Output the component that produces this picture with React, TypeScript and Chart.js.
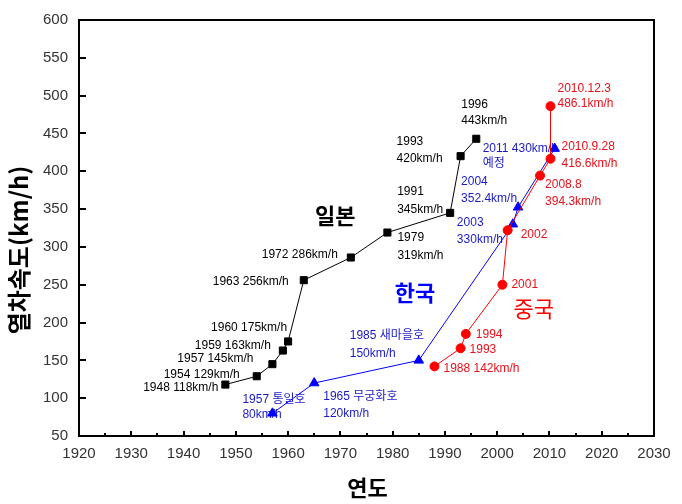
import { useEffect, useRef } from "react";
import { Chart, registerables } from "chart.js";
Chart.register(...registerables);

// ---- data ----
const japanYears = [1948, 1954, 1957, 1959, 1960, 1963, 1972, 1979, 1991, 1993, 1996];
const japanSpeeds = [118, 129, 145, 163, 175, 256, 286, 319, 345, 420, 443];
const koreaYears = [1957, 1965, 1985, 2003, 2004, 2011];
const koreaSpeeds = [80, 120, 150, 330, 352.4, 430];
const chinaYears = [1988, 1993, 1994, 2001, 2002, 2008.2, 2010.2, 2010.2];
const chinaSpeeds = [142, 166, 185, 250, 322, 394.3, 416.6, 486.1];

const japanTexts = [
  ["1948 118km/h"], ["1954 129km/h"], ["1957 145km/h"], ["1959 163km/h"], ["1960 175km/h"],
  ["1963 256km/h"], ["1972 286km/h"], ["1979", "319km/h"], ["1991", "345km/h"],
  ["1993", "420km/h"], ["1996", "443km/h"],
];
const koreaTexts = [
  ["1957 통일호", "80km/h"], ["1965 무궁화호", "120km/h"], ["1985 새마을호", "150km/h"],
  ["2003", "330km/h"], ["2004", "352.4km/h"], ["2011 430km/h", "예정"],
];
const chinaTexts = [
  ["1988 142km/h"], ["1993"], ["1994"], ["2001"], ["2002"],
  ["2008.8", "394.3km/h"], ["2010.9.28", "416.6km/h"], ["2010.12.3", "486.1km/h"],
];

const xTicks = [1920, 1930, 1940, 1950, 1960, 1970, 1980, 1990, 2000, 2010, 2020, 2030];
const yTicks = [50, 100, 150, 200, 250, 300, 350, 400, 450, 500, 550, 600];

const regionNames = ["일본", "한국", "중국"];
const regionX = [1969, 1984.3, 2007];
const regionY = [342, 239, 219];

const xTitle = "연도";
const yTitle = "열차속도(km/h)";

// ---- styling / layout (pixel offsets of labels relative to their points) ----
const JP_COLOR = "#000000";
const KR_COLOR = "#0000ff";
const KR_TEXT = "#1a1ac8";
const CN_COLOR = "#ff0000";
const CN_TEXT = "#e8101a";

const japanOffsets: [number, number[], CanvasTextAlign][] = [
  [-7, [3], "right"], [-17, [-2], "right"], [-19, [-5], "right"], [-12, [-5], "right"],
  [-1, [-14], "right"], [-15, [1], "right"], [-13, [-3], "right"], [10, [5, 23], "left"],
  [-53, [-21, -3], "left"], [-64, [-14, 3], "left"], [-15, [-34, -18], "left"],
];
const koreaOffsets: [number, number[], CanvasTextAlign][] = [
  [-30, [-14, 1], "left"], [9, [14, 31], "left"], [-69, [-25, -7], "left"],
  [-56, [-2, 15], "left"], [-57, [-26, -9], "left"], [-72, [0, 15], "left"],
];
const chinaOffsets: [number, number[], CanvasTextAlign][] = [
  [9, [2], "left"], [9, [1], "left"], [10, [1], "left"], [9, [0], "left"], [13, [4], "left"],
  [5, [9, 26], "left"], [11, [-12, 5], "left"], [7, [-17, -2], "left"],
];

const LABEL_FONT = "12px 'Liberation Sans', 'Noto Sans CJK KR', sans-serif";

const annotationPlugin = {
  id: "annotations",
  beforeDatasetsDraw(chart: any) {
    const ctx = chart.ctx;
    const xs = chart.scales.x;
    const ys = chart.scales.y;
    const groups: [number[], number[], string[][], [number, number[], CanvasTextAlign][], string][] = [
      [japanYears, japanSpeeds, japanTexts, japanOffsets, JP_COLOR],
      [koreaYears, koreaSpeeds, koreaTexts, koreaOffsets, KR_TEXT],
      [chinaYears, chinaSpeeds, chinaTexts, chinaOffsets, CN_TEXT],
    ];
    ctx.save();
    ctx.font = LABEL_FONT;
    ctx.textBaseline = "middle";
    for (const [xsArr, ysArr, texts, offs, color] of groups) {
      ctx.fillStyle = color;
      texts.forEach((lines, i) => {
        const px = xs.getPixelForValue(xsArr[i]);
        const py = ys.getPixelForValue(ysArr[i]);
        const [dx, dys, align] = offs[i];
        ctx.textAlign = align;
        lines.forEach((t, j) => ctx.fillText(t, px + dx, py + dys[j]));
      });
    }
    // region names
    const regionColors = [JP_COLOR, KR_COLOR, CN_COLOR];
    const regionFonts = [
      "bold 22px 'Noto Sans CJK KR', sans-serif",
      "bold 22px 'Noto Sans CJK KR', sans-serif",
      "22px 'Noto Sans CJK KR', sans-serif",
    ];
    ctx.textAlign = "center";
    regionNames.forEach((n, i) => {
      ctx.font = regionFonts[i];
      ctx.fillStyle = regionColors[i];
      ctx.fillText(n, xs.getPixelForValue(regionX[i]), ys.getPixelForValue(regionY[i]));
    });
    ctx.restore();
  },
  afterDraw(chart: any) {
    const ctx = chart.ctx;
    const { left, right, top, bottom } = chart.chartArea;
    const xs = chart.scales.x;
    const ys = chart.scales.y;
    ctx.save();
    ctx.strokeStyle = "#000";
    ctx.lineWidth = 2;
    ctx.strokeRect(left, top, right - left, bottom - top);
    ctx.beginPath();
    for (let v = 1920; v <= 2030; v += 5) {
      const x = Math.round(xs.getPixelForValue(v));
      const len = v % 10 === 0 ? 5 : 3;
      ctx.moveTo(x, bottom);
      ctx.lineTo(x, bottom - len);
    }
    for (const v of yTicks) {
      const y = Math.round(ys.getPixelForValue(v));
      ctx.moveTo(left, y);
      ctx.lineTo(left + 7, y);
    }
    ctx.stroke();
    // axis titles
    ctx.fillStyle = "#000";
    ctx.textAlign = "center";
    ctx.textBaseline = "middle";
    ctx.font = "bold 22px 'Noto Sans CJK KR', sans-serif";
    ctx.fillText(xTitle, (left + right) / 2 + 1, 488);
    ctx.translate(19, 250);
    ctx.rotate(-Math.PI / 2);
    ctx.font = "bold 24px 'Noto Sans CJK KR', sans-serif";
    ctx.fillText(yTitle, 0, 0);
    ctx.restore();
  },
};

export default function App() {
  const ref = useRef<HTMLCanvasElement | null>(null);
  useEffect(() => {
    if (!ref.current) return;
    const mk = (xa: number[], ya: number[]) => xa.map((x, i) => ({ x, y: ya[i] }));
    const chart = new Chart(ref.current, {
      type: "scatter",
      data: {
        datasets: [
          {
            label: "일본",
            data: mk(japanYears, japanSpeeds),
            showLine: true,
            borderColor: JP_COLOR,
            backgroundColor: JP_COLOR,
            borderWidth: 1,
            pointStyle: "rect",
            pointRadius: 5,
            pointBorderWidth: 1,
          },
          {
            label: "중국",
            data: mk(chinaYears, chinaSpeeds),
            showLine: true,
            borderColor: CN_COLOR,
            backgroundColor: CN_COLOR,
            borderWidth: 1,
            pointStyle: "circle",
            pointRadius: 4.5,
            pointBorderWidth: 1,
          },
          {
            label: "한국",
            data: mk(koreaYears, koreaSpeeds),
            showLine: true,
            borderColor: KR_COLOR,
            backgroundColor: KR_COLOR,
            borderWidth: 1,
            pointStyle: "triangle",
            pointRadius: 5.5,
            pointBorderWidth: 1,
          },
        ],
      },
      options: {
        responsive: false,
        animation: false,
        devicePixelRatio: 1,
        layout: { padding: { left: 0, top: 14, right: 28, bottom: 0 } },
        plugins: { legend: { display: false }, tooltip: { enabled: false } },
        scales: {
          x: {
            type: "linear",
            min: 1920,
            max: 2030,
            afterFit: (s: any) => { s.height = 68; },
            afterBuildTicks: (s: any) => { s.ticks = xTicks.map((v) => ({ value: v })); },
            grid: { display: false, drawTicks: false },
            border: { display: false },
            ticks: {
              padding: 9,
              color: "#333",
              callback: (v: any) => String(v),
              font: { family: "'Liberation Sans', Arial, sans-serif", size: 15 },
            },
          },
          y: {
            type: "linear",
            min: 50,
            max: 600,
            afterFit: (s: any) => { s.width = 79; },
            afterBuildTicks: (s: any) => { s.ticks = yTicks.map((v) => ({ value: v })); },
            grid: { display: false, drawTicks: false },
            border: { display: false },
            ticks: {
              padding: 11,
              color: "#333",
              callback: (v: any) => String(v),
              font: { family: "'Liberation Sans', Arial, sans-serif", size: 15 },
            },
          },
        },
      },
      plugins: [annotationPlugin],
    });
    return () => chart.destroy();
  }, []);
  return (
    <div style={{ position: "fixed", left: 0, top: 0, width: 682, height: 504, background: "#fff" }}>
      <canvas ref={ref} width={682} height={504} style={{ width: 682, height: 504, display: "block" }} />
    </div>
  );
}
